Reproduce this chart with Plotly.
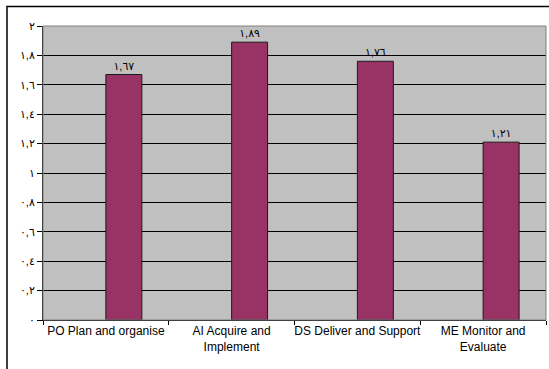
import plotly.graph_objects as go

# Category labels, scores and their printed labels
categories = ["PO Plan and organise", "AI Acquire and<br>Implement",
              "DS Deliver and Support", "ME Monitor and<br>Evaluate"]
scores = [1.67, 1.89, 1.76, 1.21]
score_labels = ["١,٦٧", "١,٨٩", "١,٧٦", "١,٢١"]

# Y-axis ticks in Arabic-Indic numerals
y_tick_values = [0, 0.2, 0.4, 0.6, 0.8, 1.0, 1.2, 1.4, 1.6, 1.8, 2.0]
y_tick_labels = ["٠", "٠,٢", "٠,٤", "٠,٦", "٠,٨", "١", "١,٢", "١,٤", "١,٦", "١,٨", "٢"]

FONT = "Liberation Sans, Arial, DejaVu Sans, sans-serif"

W, H = 549, 369
L, R, T, B = 43, 3, 26, 49
pw, ph = W - L - R, H - T - B

fig = go.Figure()
fig.add_trace(go.Bar(
    x=categories, y=scores,
    width=0.286, offset=0,
    marker=dict(color="#993366", line=dict(color="#1a1a1a", width=1)),
    text=score_labels, textposition="outside",
    textfont=dict(family=FONT, size=11, color="#000000"),
    cliponaxis=False,
    hoverinfo="skip",
))

# Outer chart frame (extends past right and bottom edges)
def px_x(v):
    return (v - L) / pw

def px_y(v):
    return (H - B - v) / ph

fig.add_shape(type="rect", xref="paper", yref="paper",
              x0=px_x(7), x1=px_x(W + 5), y0=px_y(H + 5), y1=px_y(6.5),
              line=dict(color="#000000", width=1.5), fillcolor="rgba(0,0,0,0)",
              layer="below")
# Plot area border (top/right)
fig.add_shape(type="rect", xref="paper", yref="paper",
              x0=0, x1=1, y0=0, y1=1,
              line=dict(color="#808080", width=1), fillcolor="rgba(0,0,0,0)")

fig.update_layout(
    width=W, height=H,
    margin=dict(l=L, r=R, t=T, b=B),
    paper_bgcolor="#ffffff",
    plot_bgcolor="#c0c0c0",
    showlegend=False,
    font=dict(family=FONT, size=12, color="#000000"),
    xaxis=dict(
        showline=True, linecolor="#000000", linewidth=1,
        ticks="outside", ticklen=4, tickcolor="#000000",
        tickson="boundaries", tickangle=0, automargin=False,
        tickfont=dict(family=FONT, size=12, color="#000000"),
        showgrid=False,
    ),
    yaxis=dict(
        range=[0, 2], tickvals=y_tick_values, ticktext=y_tick_labels,
        showline=True, linecolor="#000000", linewidth=1,
        ticks="outside", ticklen=5, tickcolor="#000000",
        showgrid=True, gridcolor="#000000", gridwidth=1,
        zeroline=False, automargin=False,
        tickfont=dict(family=FONT, size=11, color="#000000"),
    ),
)

fig.write_html("out.html")
